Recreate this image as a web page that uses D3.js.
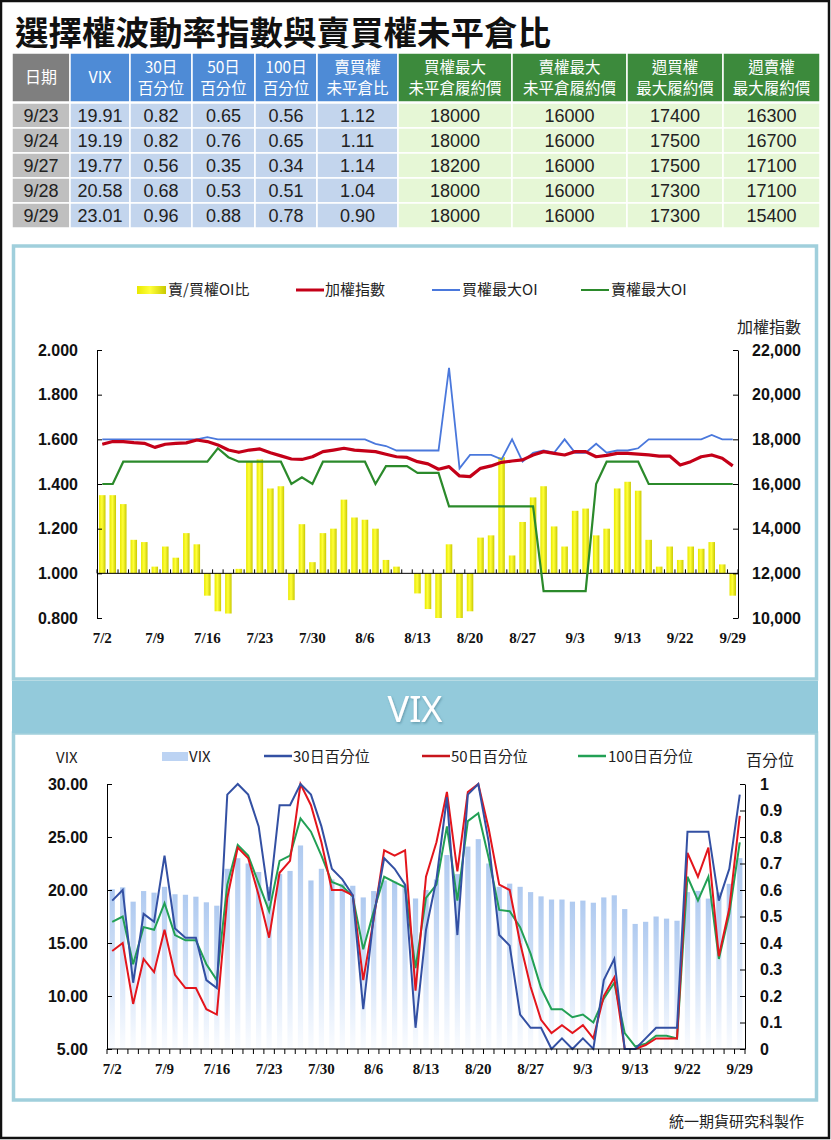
<!DOCTYPE html>
<html><head><meta charset="utf-8">
<script src="https://cdn.jsdelivr.net/npm/d3@7"></script>
<style>body{margin:0;background:#fff}svg{display:block}</style>
</head><body>
<script>
// ---------------- DATA ----------------
const title = "選擇權波動率指數與賣買權未平倉比";
const dates = ["7/2","7/5","7/6","7/7","7/8","7/9","7/12","7/13","7/14","7/15","7/16","7/19","7/20","7/21","7/22","7/23","7/26","7/27","7/28","7/29","7/30",
  "8/2","8/3","8/4","8/5","8/6","8/9","8/10","8/11","8/12","8/13","8/16","8/17","8/18","8/19","8/20","8/23","8/24","8/25","8/26","8/27","8/30","8/31",
  "9/1","9/2","9/3","9/6","9/7","9/8","9/9","9/13","9/14","9/15","9/16","9/17","9/22","9/23","9/24","9/27","9/28","9/29"];
const ratio = [1.35,1.35,1.31,1.15,1.14,1.03,1.12,1.07,1.18,1.13,
  0.90,0.83,0.82,1.02,1.50,1.51,1.38,1.39,0.88,1.22,
  1.05,1.18,1.20,1.33,1.25,1.24,1.20,1.06,1.03,1.00,
  0.91,0.84,0.80,1.13,0.80,0.83,1.16,1.17,1.52,1.08,
  1.23,1.34,1.39,1.21,1.12,1.28,1.29,1.17,1.20,1.38,
  1.41,1.37,1.15,1.03,1.12,1.06,1.12,1.11,1.14,1.04,0.90];
const taiex = [17780,17900,17900,17850,17820,17640,17780,17820,17840,17970,
  17900,17750,17520,17420,17520,17570,17400,17260,17120,17100,
  17220,17450,17520,17600,17520,17480,17450,17330,17220,17190,
  17000,16900,16660,16780,16360,16330,16700,16810,16970,17030,
  17080,17300,17450,17370,17300,17450,17450,17220,17280,17370,
  17370,17340,17300,17250,17250,16850,17000,17220,17300,17150,16810];
const callMaxOI = [18000,18000,18000,18000,18000,18000,18000,18000,18000,18000,
  18100,18000,18000,18000,18000,18000,18000,18000,18000,18000,
  18000,18000,18000,18000,18000,18000,17800,17700,17500,17500,
  17500,17500,17500,21200,16700,17300,17300,17300,17100,18000,
  17000,17400,17500,17400,18000,17400,17400,17800,17400,17500,
  17500,17600,18000,18000,18000,18000,18000,18000,18200,18000,18000];
const putMaxOI = [16000,16000,17000,17000,17000,17000,17000,17000,17000,17000,
  17000,17600,17200,17000,17000,17000,17000,17000,16000,16300,
  16000,17000,17000,17000,17000,17000,16000,16800,16800,16800,
  16500,16500,16500,15000,15000,15000,15000,15000,15000,15000,
  15000,15000,11200,11200,11200,11200,11200,16000,17000,17000,
  17000,17000,16000,16000,16000,16000,16000,16000,16000,16000,16000];
const vix = [20.07,20.25,18.9,19.9,19.75,20.3,19.6,19.55,19.37,18.84,
  18.52,22.0,23.0,22.5,21.7,20.3,21.5,21.8,24.2,20.9,
  22.0,21.0,20.6,20.4,19.3,19.9,20.9,20.8,20.5,19.2,
  20.0,21.0,23.3,21.5,24.1,24.8,22.5,20.3,20.6,20.3,
  19.8,19.4,19.1,19.1,18.9,19.0,18.8,19.3,19.5,18.2,
  16.8,17.0,17.5,17.3,17.1,19.8,19.91,19.19,19.77,20.58,23.01];
const pct30 = [0.56,0.60,0.25,0.51,0.48,0.73,0.455,0.42,0.42,0.26,
  0.23,0.96,1.0,0.96,0.84,0.56,0.92,0.92,1.0,0.96,
  0.84,0.68,0.64,0.58,0.15,0.50,0.72,0.68,0.62,0.08,
  0.45,0.64,0.95,0.43,0.96,1.0,0.78,0.43,0.39,0.13,
  0.08,0.08,0.0,0.04,0.0,0.04,0.0,0.26,0.34,0.0,
  0.0,0.04,0.08,0.08,0.08,0.82,0.82,0.82,0.56,0.68,0.96];
const pct50 = [0.37,0.40,0.17,0.34,0.29,0.45,0.28,0.23,0.23,0.15,
  0.13,0.57,0.76,0.72,0.58,0.42,0.665,0.71,1.0,0.92,
  0.78,0.60,0.60,0.58,0.26,0.49,0.75,0.73,0.75,0.22,
  0.65,0.78,0.97,0.67,0.97,1.0,0.83,0.62,0.60,0.40,
  0.235,0.11,0.06,0.09,0.06,0.09,0.04,0.20,0.27,0.0,
  0.0,0.015,0.04,0.04,0.04,0.74,0.65,0.76,0.35,0.53,0.88];
const pct100 = [0.48,0.50,0.32,0.46,0.45,0.55,0.43,0.41,0.41,0.32,
  0.26,0.62,0.77,0.73,0.625,0.52,0.71,0.73,0.87,0.82,
  0.73,0.63,0.615,0.575,0.376,0.52,0.65,0.63,0.61,0.305,
  0.57,0.62,0.84,0.56,0.86,0.89,0.72,0.525,0.52,0.46,
  0.36,0.23,0.15,0.15,0.12,0.13,0.10,0.19,0.25,0.06,
  0.01,0.02,0.05,0.05,0.04,0.65,0.56,0.65,0.34,0.51,0.78];
const ratioTicks = [0.8,1.0,1.2,1.4,1.6,1.8,2.0];
const indexTicks = [10000,12000,14000,16000,18000,20000,22000];
const vixTicks = [5,10,15,20,25,30];
const pctTicks = [0,0.1,0.2,0.3,0.4,0.5,0.6,0.7,0.8,0.9,1];
const tableHeaders = [["日期"],["VIX"],["30日","百分位"],["50日","百分位"],["100日","百分位"],["賣買權","未平倉比"],
  ["買權最大","未平倉履約價"],["賣權最大","未平倉履約價"],["週買權","最大履約價"],["週賣權","最大履約價"]];
const tableRows = [
  ["9/23","19.91","0.82","0.65","0.56","1.12","18000","16000","17400","16300"],
  ["9/24","19.19","0.82","0.76","0.65","1.11","18000","16000","17500","16700"],
  ["9/27","19.77","0.56","0.35","0.34","1.14","18200","16000","17500","17100"],
  ["9/28","20.58","0.68","0.53","0.51","1.04","18000","16000","17300","17100"],
  ["9/29","23.01","0.96","0.88","0.78","0.90","18000","16000","17300","15400"]];
const legend1 = ["賣/買權OI比","加權指數","買權最大OI","賣權最大OI"];
const legend2 = ["VIX","30日百分位","50日百分位","100日百分位"];

// ---------------- LAYOUT ----------------
const W = 831, H = 1140;
const CJK = "'Noto Sans CJK TC','Noto Sans CJK SC',sans-serif";
const NUM = "'Liberation Sans Narrow','Liberation Sans',Arial,sans-serif";
const AX = "'Liberation Sans',Arial,sans-serif";
const SERIF = "'Liberation Serif','Times New Roman',serif";
const svg = d3.select("body").append("svg").attr("width", W).attr("height", H);
const defs = svg.append("defs");

const yg = defs.append("linearGradient").attr("id","yel").attr("x1",0).attr("x2",1).attr("y1",0).attr("y2",0);
yg.append("stop").attr("offset","0%").attr("stop-color","#e8e800");
yg.append("stop").attr("offset","45%").attr("stop-color","#ffff3a");
yg.append("stop").attr("offset","100%").attr("stop-color","#c9c900");
const bg = defs.append("linearGradient").attr("id","vixg").attr("x1",0).attr("x2",0).attr("y1",0).attr("y2",1);
bg.append("stop").attr("offset","0%").attr("stop-color","#afcaf0");
bg.append("stop").attr("offset","100%").attr("stop-color","#fafcff");
const sh = defs.append("filter").attr("id","shadow");
sh.append("feDropShadow").attr("dx",1).attr("dy",1.5).attr("stdDeviation",1).attr("flood-color","#4a7f90").attr("flood-opacity",0.6);

svg.append("rect").attr("width",W).attr("height",H).attr("fill","#fff");
svg.append("rect").attr("x",1).attr("y",1).attr("width",W-3).attr("height",H-3)
  .attr("fill","none").attr("stroke","#111").attr("stroke-width",2.5);

// title
svg.append("text").attr("x",15).attr("y",45).attr("font-family",CJK).attr("font-weight",700)
  .attr("font-size",33.5).attr("fill","#111").text(title);

// table
const colEdges = [12,70,130,192,255,317,398,512,627,723,820];
const headFill = c => c===0 ? "#7f7f7f" : (c<=5 ? "#4e8bd6" : "#3c8a3c");
const bodyFill = c => c===0 ? "#bfbfbf" : (c<=5 ? "#c3d5ed" : "#e6f7d6");
const headTop = 53, headH = 49, rowH = 25;
tableHeaders.forEach((lines,c)=>{
  const x0 = colEdges[c], w = colEdges[c+1]-colEdges[c];
  svg.append("rect").attr("x",x0).attr("y",headTop).attr("width",w).attr("height",headH)
    .attr("fill",headFill(c)).attr("stroke","#fff").attr("stroke-width",1.5);
  const t = svg.append("text").attr("x",x0+w/2).attr("text-anchor","middle").attr("fill","#fff")
    .attr("font-family",CJK).attr("font-size",15.5);
  if (lines.length===1) {
    t.attr("y",headTop+headH/2+5.5).attr("font-size",16).text(lines[0]);
  } else {
    t.append("tspan").attr("x",x0+w/2).attr("y",headTop+20).text(lines[0]);
    t.append("tspan").attr("x",x0+w/2).attr("y",headTop+41).text(lines[1]);
  }
});
tableRows.forEach((row,r)=>{
  const y0 = headTop+headH+1+r*rowH;
  row.forEach((val,c)=>{
    const x0 = colEdges[c], w = colEdges[c+1]-colEdges[c];
    svg.append("rect").attr("x",x0).attr("y",y0).attr("width",w).attr("height",rowH)
      .attr("fill",bodyFill(c)).attr("stroke","#fff").attr("stroke-width",1.5);
    svg.append("text").attr("x",x0+w/2).attr("y",y0+rowH/2+6).attr("text-anchor","middle")
      .attr("font-family",NUM).attr("font-size",18).attr("fill","#222").text(val);
  });
});

// panels
const PB = "#a0cfdc";
svg.append("rect").attr("x",13.5).attr("y",246).attr("width",803).attr("height",433)
  .attr("fill","#fff").attr("stroke",PB).attr("stroke-width",3.5);
svg.append("rect").attr("x",13.5).attr("y",733).attr("width",803).attr("height",367)
  .attr("fill","#fff").attr("stroke",PB).attr("stroke-width",3.5);
svg.append("rect").attr("x",12).attr("y",681).attr("width",806).attr("height",52).attr("fill","#93cadb");
svg.append("text").attr("x",415).attr("y",722).attr("text-anchor","middle").attr("font-family","'Noto Sans',sans-serif")
  .attr("font-size",36).attr("fill","#fff").attr("filter","url(#shadow)").text("VIX");
svg.append("text").attr("x",804).attr("y",1127).attr("text-anchor","end").attr("font-family",CJK)
  .attr("font-size",15).attr("fill","#222").text("統一期貨研究科製作");

const idx = d3.range(dates.length);

// ---------------- CHART 1 ----------------
const x1 = d3.scaleBand().domain(idx).range([97,738]).paddingInner(0.38).paddingOuter(0.19);
const c1 = i => x1(i) + x1.bandwidth()/2;
const y1L = d3.scaleLinear().domain([0.8,2.0]).range([618,350]);
const y1R = d3.scaleLinear().domain([10000,22000]).range([618,350]);
const g1 = svg.append("g");

g1.selectAll("rect.bar").data(idx).join("rect").attr("class","bar")
  .attr("x",i=>x1(i)).attr("width",x1.bandwidth())
  .attr("y",i=>Math.min(y1L(ratio[i]),y1L(1)))
  .attr("height",i=>Math.abs(y1L(ratio[i])-y1L(1)))
  .attr("fill","url(#yel)");

const step1 = x1.step();
g1.append("line").attr("x1",97).attr("x2",738).attr("y1",y1L(1)).attr("y2",y1L(1)).attr("stroke","#000").attr("stroke-width",1);
g1.selectAll("line.ct").data(d3.range(dates.length+1)).join("line").attr("class","ct")
  .attr("x1",k=>97+k*step1).attr("x2",k=>97+k*step1)
  .attr("y1",y1L(1)-4).attr("y2",y1L(1)).attr("stroke","#000");
g1.selectAll("text.xl").data(idx.filter(i=>i%5===0)).join("text").attr("class","xl")
  .attr("x",c1).attr("y",643).attr("text-anchor","middle").attr("font-family",SERIF)
  .attr("font-weight",700).attr("font-size",15).attr("fill","#111").text(i=>dates[i]);

const lineR = d3.line().x(d=>c1(d[0])).y(d=>y1R(d[1]));
const ser = arr => arr.map((v,i)=>[i,v]);
g1.append("path").attr("d",lineR(ser(putMaxOI))).attr("fill","none").attr("stroke","#2b8a2b").attr("stroke-width",2.2);
g1.append("path").attr("d",lineR(ser(callMaxOI))).attr("fill","none").attr("stroke","#4a78dc").attr("stroke-width",1.8);
g1.append("path").attr("d",lineR(ser(taiex))).attr("fill","none").attr("stroke","#c40018").attr("stroke-width",3.2).attr("stroke-linejoin","round");

const axL1 = g1.append("g").attr("transform","translate(97,0)")
  .call(d3.axisLeft(y1L).tickValues(ratioTicks).tickFormat(d3.format(".3f")).tickSize(-5).tickSizeOuter(0).tickPadding(19));
const axR1 = g1.append("g").attr("transform","translate(738,0)")
  .call(d3.axisRight(y1R).tickValues(indexTicks).tickFormat(d3.format(",")).tickSize(-5).tickSizeOuter(0).tickPadding(14));
[axL1,axR1].forEach(a=>{
  a.selectAll("text").attr("font-family",AX).attr("font-weight",700).attr("font-size",16).attr("fill","#111");
  a.selectAll("line,path").attr("stroke","#000");
});
svg.append("text").attr("x",801).attr("y",333).attr("text-anchor","end").attr("font-family",CJK)
  .attr("font-size",16).attr("fill","#222").text("加權指數");

// legend 1
const L1y = 289;
svg.append("rect").attr("x",137).attr("y",L1y-3).attr("width",29).attr("height",8).attr("fill","url(#yel)");
[[296,"#c40018",3],[432,"#4a78dc",2],[581,"#2b8a2b",2]].forEach(([x,c,w])=>{
  svg.append("line").attr("x1",x).attr("x2",x+28).attr("y1",L1y+1).attr("y2",L1y+1).attr("stroke",c).attr("stroke-width",w);
});
[168,325,462,611].forEach((x,k)=>{
  svg.append("text").attr("x",x).attr("y",L1y+6).attr("font-family",CJK).attr("font-size",15).attr("fill","#222").text(legend1[k]);
});

// ---------------- CHART 2 ----------------
const x2 = d3.scaleBand().domain(idx).range([107,745]).paddingInner(0.5).paddingOuter(0.25);
const c2 = i => x2(i) + x2.bandwidth()/2;
const y2L = d3.scaleLinear().domain([5,30]).range([1049,784]);
const y2R = d3.scaleLinear().domain([0,1]).range([1049,784]);
const g2 = svg.append("g");
g2.selectAll("rect.vb").data(idx).join("rect").attr("class","vb")
  .attr("x",i=>x2(i)).attr("width",x2.bandwidth())
  .attr("y",i=>y2L(vix[i])).attr("height",i=>y2L(5)-y2L(vix[i])).attr("fill","url(#vixg)");

const lineP = d3.line().x(d=>c2(d[0])).y(d=>y2R(d[1]));
g2.append("path").attr("d",lineP(ser(pct100))).attr("fill","none").attr("stroke","#22a055").attr("stroke-width",2);
g2.append("path").attr("d",lineP(ser(pct50))).attr("fill","none").attr("stroke","#e3151c").attr("stroke-width",2);
g2.append("path").attr("d",lineP(ser(pct30))).attr("fill","none").attr("stroke","#3350a3").attr("stroke-width",2);

const step2 = x2.step();
g2.append("line").attr("x1",107).attr("x2",745).attr("y1",1049).attr("y2",1049).attr("stroke","#000");
g2.selectAll("line.ct").data(d3.range(dates.length+1)).join("line").attr("class","ct")
  .attr("x1",k=>107+k*step2).attr("x2",k=>107+k*step2).attr("y1",1049).attr("y2",1054).attr("stroke","#000");
g2.selectAll("text.xl").data(idx.filter(i=>i%5===0)).join("text").attr("class","xl")
  .attr("x",c2).attr("y",1074).attr("text-anchor","middle").attr("font-family",SERIF)
  .attr("font-weight",700).attr("font-size",15).attr("fill","#111").text(i=>dates[i]);

const axL2 = g2.append("g").attr("transform","translate(107,0)")
  .call(d3.axisLeft(y2L).tickValues(vixTicks).tickFormat(d3.format(".2f")).tickSize(-5).tickSizeOuter(0).tickPadding(19));
const axR2 = g2.append("g").attr("transform","translate(745,0)")
  .call(d3.axisRight(y2R).tickValues(pctTicks).tickFormat(d=>String(d)).tickSize(-5).tickSizeOuter(0).tickPadding(15));
[axL2,axR2].forEach(a=>{
  a.selectAll("text").attr("font-family",AX).attr("font-weight",700).attr("font-size",16).attr("fill","#111");
  a.selectAll("line,path").attr("stroke","#000");
});
svg.append("text").attr("x",56).attr("y",763).attr("font-family",CJK).attr("font-size",15).attr("fill","#222").text("VIX");
svg.append("text").attr("x",746).attr("y",766).attr("font-family",CJK).attr("font-size",16).attr("fill","#222").text("百分位");

// legend 2
const L2y = 756;
svg.append("rect").attr("x",162).attr("y",L2y-4).attr("width",26).attr("height",9).attr("fill","#bcd3f3");
[[264,"#3350a3"],[422,"#c8151c"],[578,"#22a055"]].forEach(([x,c])=>{
  svg.append("line").attr("x1",x).attr("x2",x+28).attr("y1",L2y).attr("y2",L2y).attr("stroke",c).attr("stroke-width",2.5);
});
[189,293,451,608].forEach((x,k)=>{
  svg.append("text").attr("x",x).attr("y",L2y+5.5).attr("font-family",CJK).attr("font-size",15).attr("fill","#222").text(legend2[k]);
});
</script>
</body></html>
